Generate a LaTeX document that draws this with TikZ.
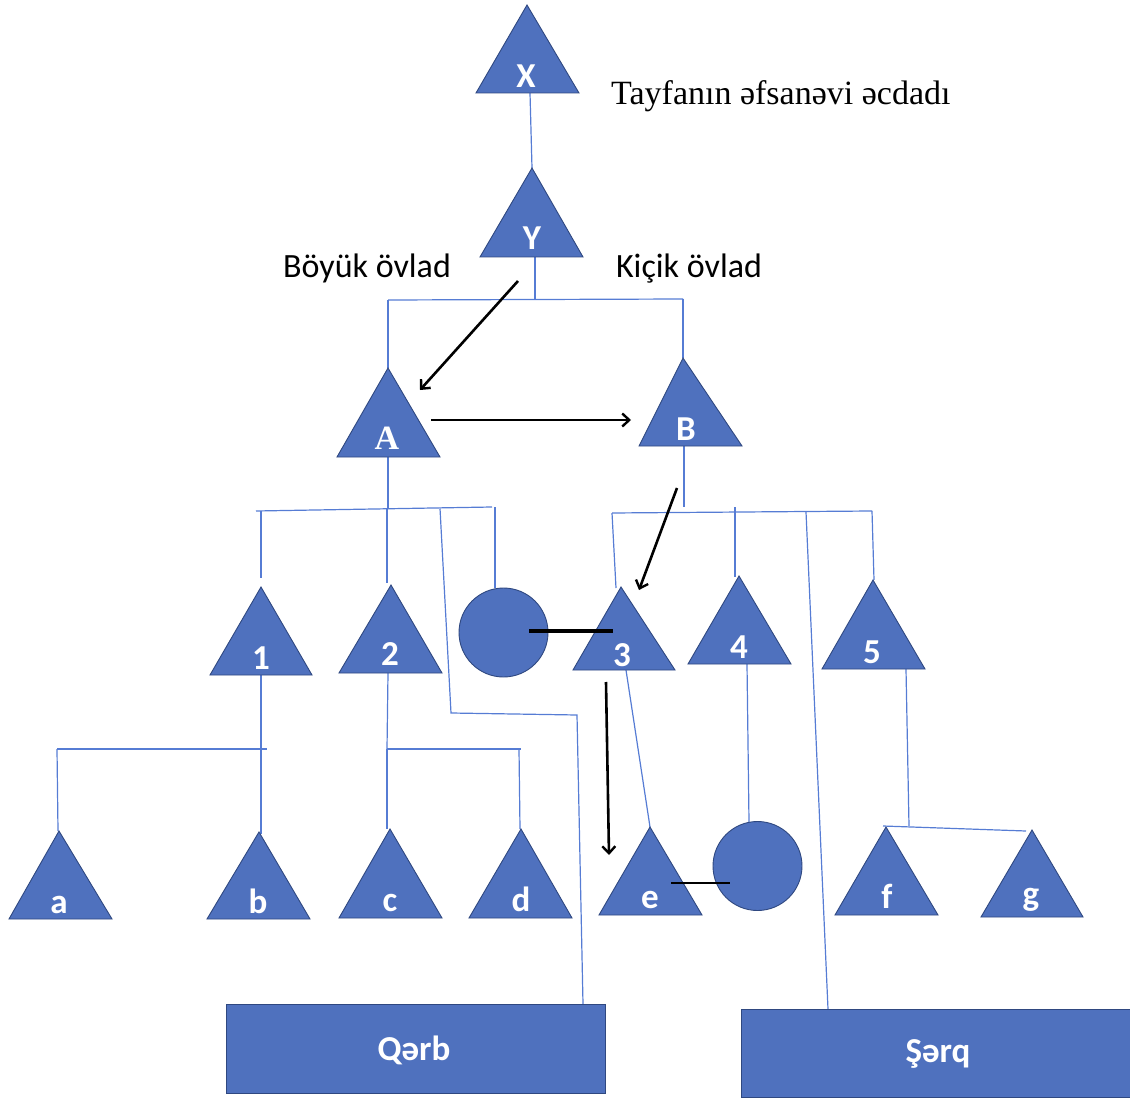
\documentclass[tikz,border=0pt]{standalone}
\usepackage{fontspec}
\setmainfont{Liberation Serif}
\newfontfamily\calfont{Carlito}
\usetikzlibrary{arrows.meta,calc}
\definecolor{tfill}{RGB}{79,113,190}
\definecolor{tedge}{RGB}{47,72,128}
\definecolor{cline}{RGB}{86,124,212}
\tikzset{
 tri/.style={fill=tfill,draw=tedge,line width=0.9pt,line join=miter},
 conn/.style={draw=cline,line width=1.2pt},
 arr/.style={draw=black,line width=2.6pt,-{Straight Barb[length=7pt,width=13pt,line width=2.4pt]}},
 blk/.style={draw=black,line width=3.2pt},
 blkthin/.style={draw=black,line width=1.6pt},
 lab/.style={text=white,font=\calfont\bfseries\fontsize{35}{40}\selectfont,anchor=base,inner sep=0pt},
 captext/.style={font=\calfont\fontsize{34}{40}\selectfont,anchor=base,inner sep=0pt},
 roundshape/.style={circle,fill=tfill,draw=tedge,line width=0.9pt,minimum size=89pt,inner sep=0pt},
 boxshape/.style={rectangle,fill=tfill,draw=tedge,line width=0.9pt,inner sep=0pt},
}
\newcommand\mytri[6]{%
 \coordinate (#1-t) at (#2,#3);
 \coordinate (#1-l) at (#4,#6);
 \coordinate (#1-r) at (#5,#6);
 \path[tri] (#1-t) -- (#1-r) -- (#1-l) -- cycle;
}
\begin{document}
\begin{tikzpicture}[x=1pt,y=-1pt]
\useasboundingbox (0,0) rectangle (1130,1099);
% ---------- connectors (blue) ----------
\coordinate (xb) at (530,93);
\coordinate (yb) at (535,257);
\coordinate (yj) at (535,299.5);
\coordinate (hl) at (388,300);
\coordinate (hr) at (683,299);
\coordinate (ab) at (388,457);
\coordinate (aj) at (388,509);
\coordinate (ahl) at (256,511);
\coordinate (ahr) at (492,507);
\coordinate (bb) at (684,446);
\coordinate (bhl) at (612,513);
\coordinate (bhr) at (872,511);
\coordinate (qa) at (440,508.5);
\coordinate (qb) at (451,713);
\coordinate (qc) at (577,715);
\coordinate (sa) at (806,512);
\coordinate (abl) at (57,749);
\coordinate (abr) at (267,749);
\coordinate (cdl) at (387,749);
\coordinate (cdr) at (521,749);
\coordinate (fgl) at (883,826);
\coordinate (fgr) at (1026,831);
\coordinate (f5) at (909,826);

\draw[conn] (xb) -- (532,168);
\draw[conn] (yb) -- (yj);
\draw[conn] (hl) -- (hr);
\draw[conn] (hl) -- (388,368);
\draw[conn] (hr) -- (683,358);
\draw[conn] (ab) -- (aj);
\draw[conn] (ahl) -- (ahr);
\draw[conn] (261,510.8) -- (261,578);
\draw[conn] (387,509.2) -- (387,583);
\draw[conn] (qa) -- (qb) -- (qc) -- (583,1004);
\draw[conn] (495,507) -- (495,588);
\draw[conn] (bb) -- (684,507);
\draw[conn] (bhl) -- (bhr);
\draw[conn] (bhl) -- (616,588);
\draw[conn] (735,507) -- (735,577);
\draw[conn] (sa) -- (828,1009);
\draw[conn] (bhr) -- (874,580);
\draw[conn] (261,675) -- (261,834);
\draw[conn] (abl) -- (abr);
\draw[conn] (abl) -- (58,831);
\draw[conn] (388,673) -- (cdl);
\draw[conn] (cdl) -- (cdr);
\draw[conn] (cdl) -- (387,829);
\draw[conn] (519,749) -- (520,829);
\draw[conn] (626,670) -- (650,827);
\draw[conn] (747,664) -- (749,822);
\draw[conn] (906,669) -- (f5);
\draw[conn] (fgl) -- (fgr);

% ---------- shapes ----------
\mytri{X}{527}{5}{476}{579}{93}
\mytri{Y}{532}{168}{480}{583}{257}
\mytri{A}{388}{368}{337}{440}{457}
\mytri{B}{683}{358}{639}{742}{446}
\mytri{one}{261}{587}{210}{312}{675}
\mytri{two}{391}{585}{339}{442}{673}
\mytri{three}{621}{587}{573}{675}{670}
\mytri{four}{739}{576}{688}{791}{664}
\mytri{five}{873}{580}{822}{925}{669}
\mytri{ta}{59}{831}{9}{112}{919}
\mytri{tb}{259}{832}{207}{310}{919}
\mytri{tc}{390}{829}{339}{442}{918}
\mytri{td}{521}{829}{469}{572}{918}
\mytri{te}{650}{827}{599}{702}{915}
\mytri{tf}{886}{827}{835}{938}{915}
\mytri{tg}{1032}{830}{981}{1083}{917}
\node[roundshape] (c1) at (503.5,632.5) {};
\node[roundshape] (c2) at (757.5,866) {};
\node[boxshape,minimum width=379pt,minimum height=89pt] (qarb) at (415.5,1048.5) {};
\node[boxshape,minimum width=390pt,minimum height=88pt] (serq) at (936.5,1053) {};

% ---------- black lines and arrows ----------
\draw[blk] (529,631) -- (613,631);
\draw[blkthin] (671,883) -- (730,883);
\draw[arr] (518,281) -- (420,390);
\draw[arr] (431,420) -- (631,420);
\draw[arr] (677,488) -- (639,590);
\draw[arr] (606,682) -- (609,855);

% ---------- labels ----------
\node[lab] (lX) at (526,88) {X};
\node[lab] (lY) at (532,250) {Y};
\node[lab,font=\bfseries\fontsize{34}{38}\selectfont] (lA) at (387,449) {A};
\node[lab] (lB) at (686,440) {B};
\node[lab] (l1) at (261,669) {1};
\node[lab] (l2) at (390,665) {2};
\node[lab] (l3) at (622,666) {3};
\node[lab] (l4) at (739,658) {4};
\node[lab] (l5) at (872,663) {5};
\node[lab] (la) at (59,913) {a};
\node[lab] (lb) at (258,913) {b};
\node[lab] (lc) at (390,911) {c};
\node[lab] (ld) at (521,911) {d};
\node[lab] (le) at (650,908) {e};
\node[lab] (lf) at (887,908) {f};
\node[lab] (lg) at (1031,905) {g};
\node[lab,font=\calfont\bfseries\fontsize{35}{40}\selectfont] (lqarb) at (414,1060) {Qərb};
\node[lab,font=\calfont\bfseries\fontsize{35}{40}\selectfont] (lserq) at (938,1062) {Şərq};
\node[captext] (boyuk) at (367,278) {Böyük övlad};
\node[captext] (kicik) at (689,278) {Kiçik övlad};
\node[anchor=base west,inner sep=0pt,font=\fontsize{34}{40}\selectfont] (tayfa) at (611,105) {Tayfanın əfsanəvi əcdadı};
\end{tikzpicture}
\end{document}
